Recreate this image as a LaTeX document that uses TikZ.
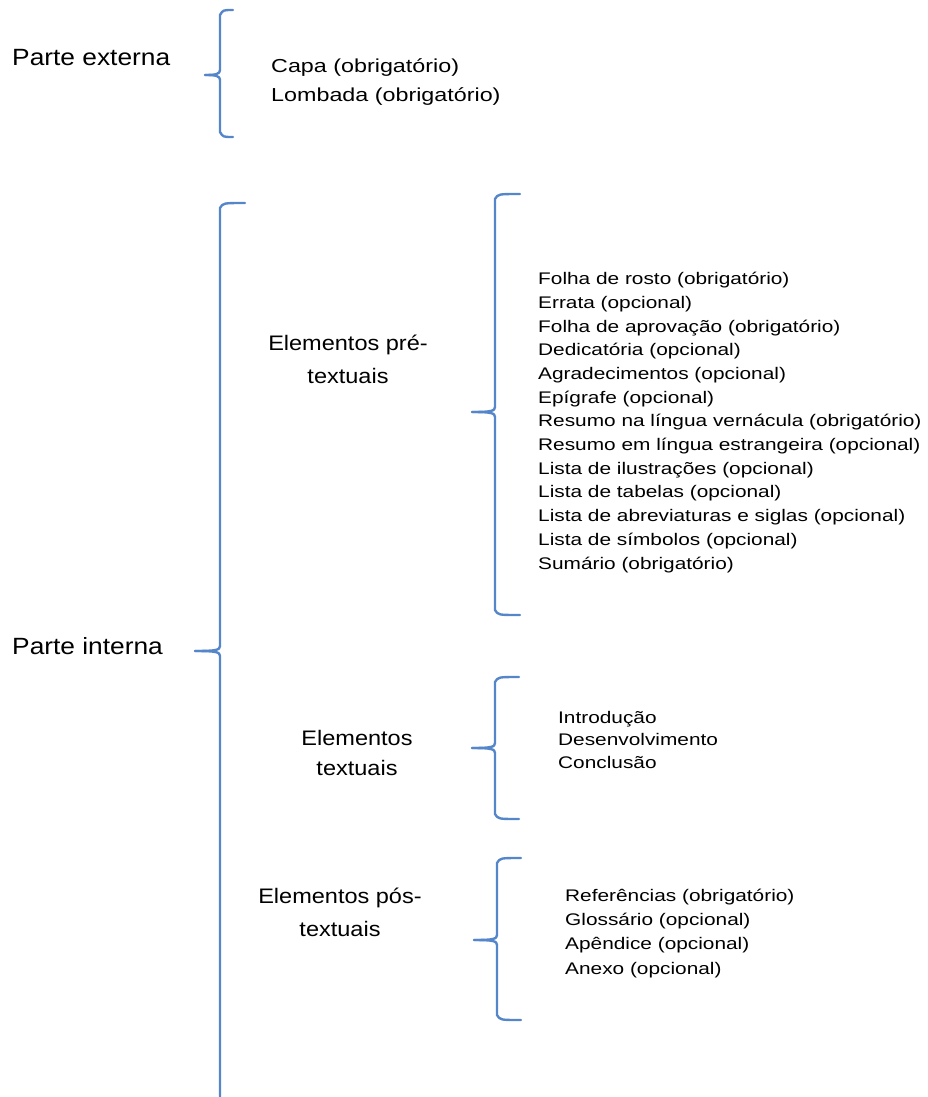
\documentclass[tikz,border=0pt]{standalone}
\usepackage{fontspec}
\setmainfont{Liberation Sans}[FakeStretch=1.12]
\newfontfamily\itemfont{Liberation Sans}[FakeStretch=1.24]
\definecolor{chaveblue}{RGB}{86,134,202}

\tikzset{
    chave/.style={draw=chaveblue, line width=2.4pt, line cap=round, line join=round},
    grupo/.style={inner sep=0pt, anchor=base west, font=\fontsize{23.5}{28}\selectfont},
    secao/.style={inner sep=0pt, anchor=base, align=center, font=\fontsize{21}{33}\selectfont},
    lista/.style={inner sep=0pt, anchor=base west, align=left},
}

% brace: x, top, middle, bottom, tip x, arm x
\newcommand{\chave}[6]{%
    \draw[chave] (#6, #2) .. controls (#1+3, #2) .. (#1, #2+5)
        -- (#1, #3-5) .. controls (#1, #3-1) and (#1-4, #3) .. (#5, #3);
    \draw[chave] (#5, #3) .. controls (#1-4, #3) and (#1, #3+1) .. (#1, #3+5)
        -- (#1, #4-5) .. controls (#1+3, #4) .. (#6, #4);
}

\begin{document}
\begin{tikzpicture}[x=1pt, y=-1pt]
    \useasboundingbox (0, 0) rectangle (927, 1097);

    % parte externa
    \node[grupo] (externa) at (12, 66) {Parte externa};
    \chave{220}{10}{75}{137}{205}{233}
    \node[lista, font={\itemfont\fontsize{18.8}{29}\selectfont}] (capa) at (271, 102)
        {Capa (obrigatório)\\Lombada (obrigatório)};

    % parte interna
    \node[grupo] (interna) at (12, 654) {Parte interna};
    \draw[chave] (245, 203) .. controls (223, 203) .. (220, 208)
        -- (220, 646) .. controls (220, 650) and (216, 651) .. (195, 651);
    \draw[chave] (195, 651) .. controls (216, 651) and (220, 652) .. (220, 656)
        -- (220, 1097);

    % elementos pre-textuais
    \node[secao] (pre) at (348, 383) {Elementos pré-\\textuais};
    \chave{495}{194}{412}{615}{472}{520}
    \node[lista, font={\itemfont\fontsize{16.8}{23.7}\selectfont}] (prelista) at (538, 569)
        {Folha de rosto (obrigatório)\\
         Errata (opcional)\\
         Folha de aprovação (obrigatório)\\
         Dedicatória (opcional)\\
         Agradecimentos (opcional)\\
         Epígrafe (opcional)\\
         Resumo na língua vernácula (obrigatório)\\
         Resumo em língua estrangeira (opcional)\\
         Lista de ilustrações (opcional)\\
         Lista de tabelas (opcional)\\
         Lista de abreviaturas e siglas (opcional)\\
         Lista de símbolos (opcional)\\
         Sumário (obrigatório)};

    % elementos textuais
    \node[secao, font=\fontsize{21}{30}\selectfont] (txt) at (357, 775) {Elementos\\textuais};
    \chave{495}{677}{748}{819}{472}{519}
    \node[lista, font={\itemfont\fontsize{16.8}{22.5}\selectfont}] (txtlista) at (558, 768)
        {Introdução\\Desenvolvimento\\Conclusão};

    % elementos pos-textuais
    \node[secao] (pos) at (340, 936) {Elementos pós-\\textuais};
    \chave{497}{858}{940}{1020}{474}{521}
    \node[lista, font={\itemfont\fontsize{16.8}{24.3}\selectfont}] (poslista) at (565, 974)
        {Referências (obrigatório)\\Glossário (opcional)\\Apêndice (opcional)\\Anexo (opcional)};
\end{tikzpicture}
\end{document}
